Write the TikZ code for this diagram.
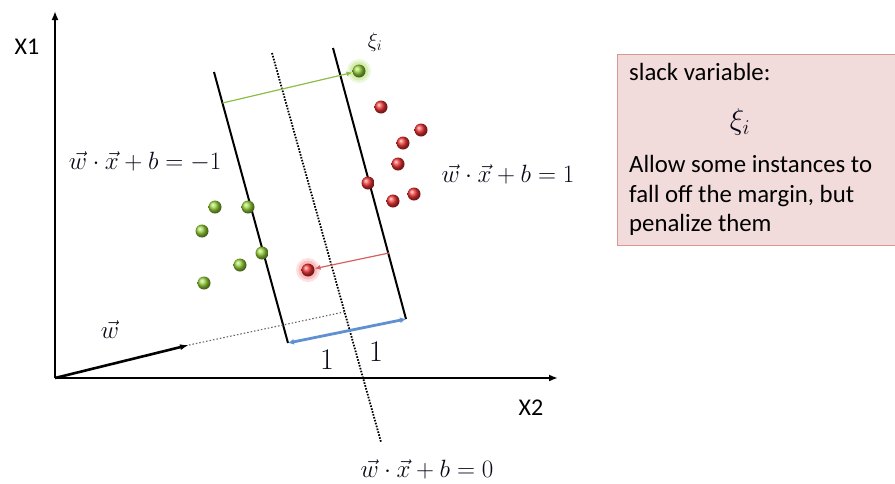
\RequirePackage{fix-cm}
\documentclass[tikz,border=0pt]{standalone}
\usepackage{fontspec}
\setmainfont{Carlito}
\usetikzlibrary{arrows.meta}
\definecolor{gball}{RGB}{150,210,55}
\definecolor{rball}{RGB}{240,50,50}
\definecolor{garrow}{RGB}{140,190,70}
\definecolor{rarrow}{RGB}{215,95,95}
\definecolor{barrow}{RGB}{95,145,210}
\definecolor{boxfill}{RGB}{242,220,219}
\definecolor{boxdraw}{RGB}{217,150,148}
\definecolor{labtext}{RGB}{10,10,25}
\begin{document}
\begin{tikzpicture}[x=1pt,y=-1pt,
  axis/.style={line width=2.4pt,-{Latex[length=9pt,width=7pt]}},
  margin/.style={line width=2pt},
  centerline/.style={line width=1.8pt,dash pattern=on 1.6pt off 1.4pt},
  thindot/.style={line width=1.1pt,gray!80!black,dash pattern=on 1.5pt off 2pt},
  greenball/.style={circle,inner sep=0pt,minimum size=13pt,shading=ball,ball color=gball},
  redball/.style={circle,inner sep=0pt,minimum size=13pt,shading=ball,ball color=rball},
  mathlab/.style={inner sep=0pt,text=labtext,font=\fontsize{25}{29}\selectfont},
  axlab/.style={inner sep=0pt,font=\fontsize{24}{28}\selectfont},
  boxtext/.style={inner sep=0pt,anchor=base west,font=\fontsize{24.8}{29}\selectfont}]
\useasboundingbox (0,0) rectangle (895,483);

% axes
\coordinate (O) at (55,378);
\coordinate (Ytop) at (55,11);
\coordinate (Xend) at (558,378);
\draw[axis] (O) -- (Ytop);
\draw[axis] (O) -- (Xend);
\node[axlab] (X1) at (27,47) {X1};
\node[axlab] (X2) at (531,408) {X2};

% margin lines and hyperplane
\coordinate (L1) at (214,72);
\coordinate (L2) at (288,343);
\coordinate (C1) at (272,53);
\coordinate (C2) at (381,442);
\coordinate (R1) at (333,48);
\coordinate (R2) at (406,319);
\draw[margin] (L1) -- (L2);
\draw[margin] (R1) -- (R2);
\draw[centerline] (C1) -- (C2);

% w vector
\coordinate (wtip) at (189,345);
\coordinate (wc) at (344,312);
\draw[thindot] (wtip) -- (wc);
\draw[line width=2.6pt,-{Latex[length=9pt,width=6pt]}] (O) -- (wtip);
\node[mathlab] (wlab) at (110,330) {$\vec{w}$};

% margin width arrow
\draw[line width=2.8pt,barrow,{Latex[length=6pt,width=6pt]}-{Latex[length=6pt,width=6pt]}] (L2) -- (R2);
\node[mathlab,font=\fontsize{30}{34}\selectfont] (one1) at (327,360) {$1$};
\node[mathlab,font=\fontsize{30}{34}\selectfont] (one2) at (376,352) {$1$};

% glows
\coordinate (goutc) at (359,71);
\coordinate (routc) at (308,270);
\fill[gball,opacity=0.18] (goutc) circle (12);
\fill[gball,opacity=0.25] (goutc) circle (9.5);
\fill[rball,opacity=0.15] (routc) circle (12);
\fill[rball,opacity=0.2] (routc) circle (9.5);

% green points
\node[greenball] (gout) at (goutc) {};
\node[greenball] (g1) at (215,207) {};
\node[greenball] (g2) at (248,207) {};
\node[greenball] (g3) at (202,231) {};
\node[greenball] (g4) at (262,253) {};
\node[greenball] (g5) at (240,265) {};
\node[greenball] (g6) at (204,283) {};

% red points
\node[redball] (rout) at (routc) {};
\node[redball] (r1) at (381,107) {};
\node[redball] (r2) at (421,130) {};
\node[redball] (r3) at (403,143) {};
\node[redball] (r4) at (398,164) {};
\node[redball] (r5) at (368,183) {};
\node[redball] (r6) at (393,201) {};
\node[redball] (r7) at (414,194) {};

% slack arrows
\coordinate (gs) at (222.5,103);
\coordinate (rs) at (389,253);
\draw[line width=1.2pt,garrow,-{Latex[length=6pt,width=5pt]}] (gs) -- (gout);
\draw[line width=1.2pt,rarrow,-{Latex[length=6pt,width=5pt]}] (rs) -- (rout);

% labels
\node[mathlab,font=\fontsize{21}{25}\selectfont] (xitop) at (375,42) {$\xi_i$};
\node[mathlab] (lneg) at (145,162) {$\vec{w}\cdot\vec{x}+b=-1$};
\node[mathlab] (lpos) at (508,174) {$\vec{w}\cdot\vec{x}+b=1$};
\node[mathlab] (lzero) at (427,469) {$\vec{w}\cdot\vec{x}+b=0$};

% slack variable box
\node[draw=boxdraw,fill=boxfill,line width=1.2pt,inner sep=0pt,anchor=north west,
  minimum width=290pt,minimum height=191pt] (box) at (617,54) {};
\node[boxtext] (t1) at (629,80) {slack variable:};
\node[mathlab,font=\fontsize{30}{34}\selectfont] (xibox) at (740,122) {$\xi_i$};
\node[boxtext] (t2) at (629,172) {Allow some instances to};
\node[boxtext] (t3) at (629,202) {fall off the margin, but};
\node[boxtext] (t4) at (629,231) {penalize them};
\end{tikzpicture}
\end{document}
